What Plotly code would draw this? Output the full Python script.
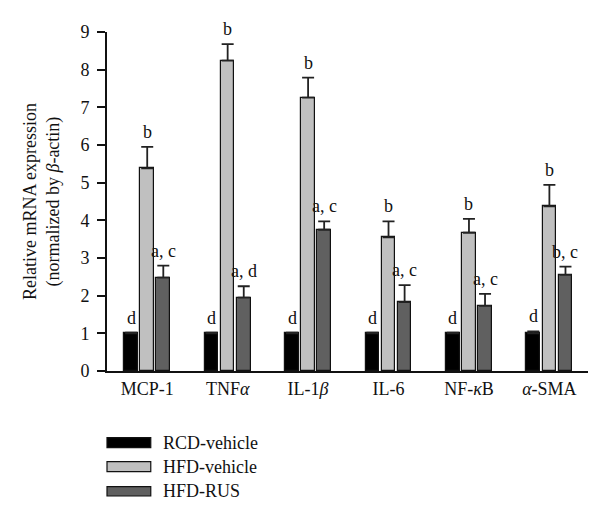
import plotly.graph_objects as go

categories = ["MCP-1", "TNF<i>α</i>", "IL-1<i>β</i>", "IL-6", "NF-<i>κ</i>B", "<i>α</i>-SMA"]
series_names = ["RCD-vehicle", "HFD-vehicle", "HFD-RUS"]
rcd_vehicle = [1.0, 1.0, 1.0, 1.0, 1.0, 1.0]
rcd_err = [0.02, 0.02, 0.02, 0.02, 0.02, 0.05]
hfd_vehicle = [5.38, 8.24, 7.26, 3.55, 3.67, 4.37]
hfd_vehicle_err = [0.57, 0.44, 0.53, 0.42, 0.37, 0.57]
hfd_rus = [2.48, 1.95, 3.75, 1.83, 1.73, 2.55]
hfd_rus_err = [0.32, 0.30, 0.22, 0.45, 0.32, 0.22]
rcd_labels = ["d", "d", "d", "d", "d", "d"]
hfd_vehicle_labels = ["b", "b", "b", "b", "b", "b"]
hfd_rus_labels = ["a, c", "a, d", "a, c", "a, c", "a, c", "b, c"]
y_title = "Relative mRNA expression<br>(normalized by <i>β</i>-actin)"

values = [rcd_vehicle, hfd_vehicle, hfd_rus]
errors = [rcd_err, hfd_vehicle_err, hfd_rus_err]
labels = [rcd_labels, hfd_vehicle_labels, hfd_rus_labels]
colors = ["#000000", "#c0c0c0", "#606060"]

FONT = "Liberation Serif, Times New Roman, serif"
bar_width = 0.17
offsets = [-0.2, 0.0, 0.2]
centers = list(range(len(categories)))

fig = go.Figure()
annotations = []
shapes = []
for s in range(3):
    xs = [c + offsets[s] for c in centers]
    fig.add_trace(go.Bar(
        x=xs, y=values[s], width=bar_width, name=series_names[s],
        marker=dict(color=colors[s], line=dict(color="#111111", width=1.2)),
        error_y=dict(type="data", array=errors[s], arrayminus=[0] * len(centers),
                     symmetric=False, color="#222222", thickness=1.8, width=6),
        showlegend=False,
    ))
    for i, c in enumerate(centers):
        annotations.append(dict(
            x=c + offsets[s], y=values[s][i] + errors[s][i], xref="x", yref="y",
            text=labels[s][i], showarrow=False, yanchor="bottom", yshift=3,
            font=dict(family=FONT, size=18, color="#111111"),
        ))

# legend (drawn below the plot area, in paper coordinates)
legend_rows = [(-0.1968, -0.2263), (-0.2676, -0.2970), (-0.3413, -0.3687)]
for s, (ytop, ybot) in enumerate(legend_rows):
    shapes.append(dict(type="rect", xref="paper", yref="paper",
                       x0=0.0, x1=0.091, y0=ybot, y1=ytop,
                       fillcolor=colors[s], line=dict(color="#111111", width=1.2)))
    annotations.append(dict(x=0.112, y=(ytop + ybot) / 2, xref="paper", yref="paper",
                            text=series_names[s], showarrow=False,
                            xanchor="left", yanchor="middle",
                            font=dict(family=FONT, size=18, color="#111111")))

# y-axis title
annotations.append(dict(x=-0.136, y=0.5, xref="paper", yref="paper", text=y_title,
                        textangle=-90, showarrow=False, xanchor="center", yanchor="middle",
                        font=dict(family=FONT, size=18, color="#111111")))

# the page body adds an 8px offset, so the figure is 8px smaller than the window
fig.update_layout(
    width=592, height=514,
    margin=dict(l=99, r=12, t=24, b=151),
    plot_bgcolor="white", paper_bgcolor="white",
    font=dict(family=FONT, size=18, color="#111111"),
    showlegend=False,
    annotations=annotations,
    shapes=shapes,
    bargap=0, barmode="overlay",
)
fig.update_xaxes(
    range=[-0.5, 5.48], tickmode="array", tickvals=centers, ticktext=categories,
    showline=True, linecolor="#111111", linewidth=1.8, ticks="", showgrid=False,
    zeroline=False, tickfont=dict(family=FONT, size=18),
)
fig.update_yaxes(
    range=[0, 9], dtick=1, showline=True, linecolor="#111111", linewidth=1.8,
    ticks="outside", ticklen=8, tickwidth=1.6, tickcolor="#111111",
    ticklabelstandoff=4,
    showgrid=False, zeroline=False, tickfont=dict(family=FONT, size=18),
)
fig.write_html("out.html")
